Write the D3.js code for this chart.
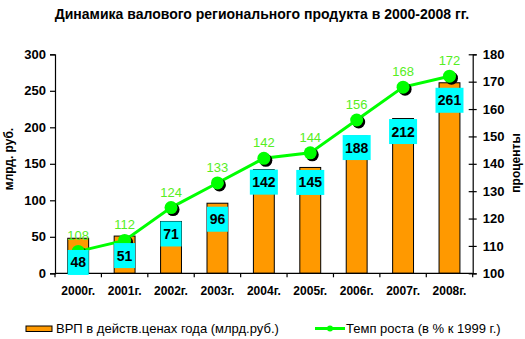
<!DOCTYPE html>
<html><head><meta charset="utf-8">
<script src="https://cdn.jsdelivr.net/npm/d3@7"></script>
<style>body{margin:0;background:#fff}svg{display:block;font-family:Arial,"Liberation Sans",sans-serif}</style>
</head><body>
<svg id="c" width="525" height="339"></svg>
<script>
const title = "Динамика валового регионального продукта в 2000-2008 гг.";
const categories = ["2000г.","2001г.","2002г.","2003г.","2004г.","2005г.","2006г.","2007г.","2008г."];
const grpValues = [48, 51, 71, 96, 142, 145, 188, 212, 261];
const growthValues = [108, 112, 124, 133, 142, 144, 156, 168, 172];
const leftTicks = [0, 50, 100, 150, 200, 250, 300];
const rightTicks = [100, 110, 120, 130, 140, 150, 160, 170, 180];
const seriesNames = ["ВРП в действ.ценах года (млрд.руб.)", "Темп роста (в % к 1999 г.)"];
const axisTitles = ["млрд. руб.", "проценты"];

// manual label nudges (px) as placed in the original
const boxNudge = [11.7, 7, 0, 3.5, 0, 2.5, -1, 0.5, 5];

const svg = d3.select("#c");
const L = 55, R = 472.7, T = 54.3, B = 273.3;
const x = d3.scaleBand().domain(categories).range([L, R]);
const yL = d3.scaleLinear().domain([0, 300]).range([B, T]);
const yR = d3.scaleLinear().domain([100, 180]).range([B, T]);

svg.append("text").attr("x", 262).attr("y", 19).attr("text-anchor", "middle")
  .attr("font-weight", "bold").attr("font-size", 14).text(title);

// bars
const bw = x.bandwidth() * 0.45;
svg.append("g").selectAll("rect").data(grpValues).join("rect")
  .attr("x", (d, i) => x(categories[i]) + x.bandwidth() / 2 - bw / 2)
  .attr("y", d => yL(d)).attr("width", bw).attr("height", d => B - yL(d))
  .attr("fill", "#FF9900").attr("stroke", "#000").attr("stroke-width", 1);

// axes
const axL = svg.append("g").attr("transform", `translate(${L},0)`)
  .call(d3.axisLeft(yL).tickValues(leftTicks).tickSize(5).tickPadding(4));
const axR = svg.append("g").attr("transform", `translate(${R},0)`)
  .call(d3.axisRight(yR).tickValues(rightTicks).tickSize(4).tickPadding(6));
axR.selectAll(".tick line").attr("x1", -4);
const axB = svg.append("g").attr("transform", `translate(0,${B})`)
  .call(d3.axisBottom(x).tickSize(0).tickPadding(13));
[axL, axR, axB].forEach(a => {
  a.select(".domain").attr("stroke", "#000").attr("stroke-width", 1.2);
  a.selectAll(".tick line").attr("stroke", "#000").attr("stroke-width", 1.2);
  a.selectAll("text").attr("font-size", 13).attr("font-weight", "bold")
    .attr("font-family", "Arial,'Liberation Sans',sans-serif").attr("fill", "#000");
});
axB.select(".domain").attr("d", `M${L},0H${R}`);
axB.selectAll("text").attr("font-size", 12);
const bounds = x.domain().map(c => x(c)).concat([R]);
axB.append("g").selectAll("line").data(bounds).join("line")
  .attr("x1", d => d).attr("x2", d => d).attr("y1", 0).attr("y2", 4)
  .attr("stroke", "#000").attr("stroke-width", 1.2);

// axis titles
svg.append("text").attr("transform", `translate(13,159) rotate(-90)`).attr("text-anchor", "middle")
  .attr("font-weight", "bold").attr("font-size", 12).text(axisTitles[0]);
svg.append("text").attr("transform", `translate(520,163) rotate(-90)`).attr("text-anchor", "middle")
  .attr("font-weight", "bold").attr("font-size", 12).text(axisTitles[1]);

// line
const cx = (d, i) => x(categories[i]) + x.bandwidth() / 2;
const line = d3.line().x(cx).y(d => yR(d));
svg.append("path").datum(growthValues).attr("d", line)
  .attr("fill", "none").attr("stroke", "#00FF00").attr("stroke-width", 3);
svg.append("g").selectAll("circle").data(growthValues).join("circle")
  .attr("cx", (d, i) => cx(d, i) + 2).attr("cy", d => yR(d) + 2).attr("r", 6.5).attr("fill", "#000");
svg.append("g").selectAll("circle").data(growthValues).join("circle")
  .attr("cx", cx).attr("cy", d => yR(d)).attr("r", 6.5).attr("fill", "#00FF00");
svg.append("g").selectAll("text").data(growthValues).join("text")
  .attr("x", cx).attr("y", d => yR(d) - 11).attr("text-anchor", "middle")
  .attr("font-size", 13).attr("fill", "#55EE22").text(d => d);

// bar value labels
const lbl = svg.append("g").selectAll("g").data(grpValues).join("g")
  .attr("transform", (d, i) => `translate(${cx(d, i)},${yL(d) + boxNudge[i]})`);
lbl.append("rect").attr("x", d => -(String(d).length === 2 ? 10.5 : 14))
  .attr("width", d => String(d).length === 2 ? 21 : 28).attr("y", 0).attr("height", 25)
  .attr("fill", "#00FFFF");
lbl.append("text").attr("y", 17.5).attr("text-anchor", "middle").attr("font-weight", "bold")
  .attr("font-size", 14).attr("fill", "#000").text(d => d);

// legend
const lg = svg.append("g");
lg.append("rect").attr("x", 26).attr("y", 326).attr("width", 26).attr("height", 5.5)
  .attr("fill", "#FF9900").attr("stroke", "#000").attr("stroke-width", 1);
lg.append("text").attr("x", 56).attr("y", 333).attr("font-size", 13).text(seriesNames[0]);
lg.append("line").attr("x1", 315).attr("x2", 345).attr("y1", 328.5).attr("y2", 328.5)
  .attr("stroke", "#00FF00").attr("stroke-width", 3);
lg.append("circle").attr("cx", 330).attr("cy", 328.5).attr("r", 3).attr("fill", "#00FF00");
lg.append("text").attr("x", 346).attr("y", 333).attr("font-size", 13).text(seriesNames[1]);
</script>
</body></html>
